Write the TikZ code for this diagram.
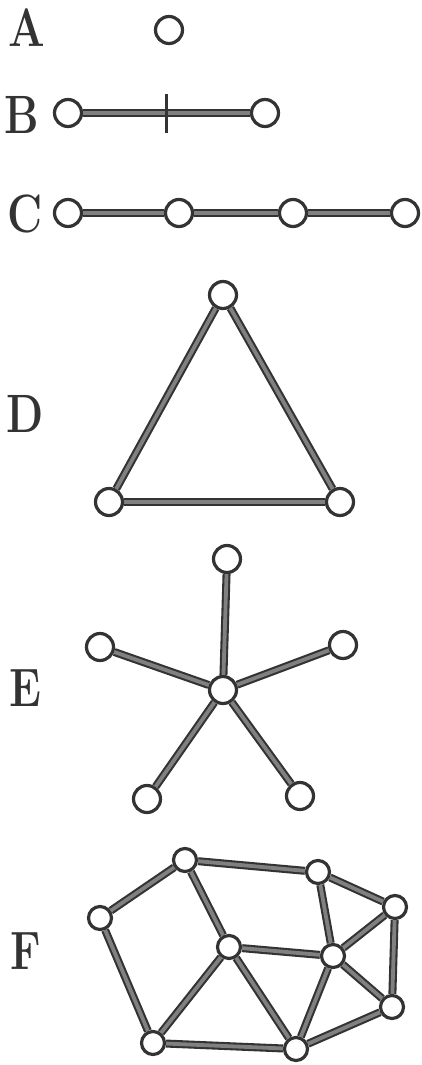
\documentclass[tikz,border=0pt]{standalone}
\usepackage{fontspec}
\newfontfamily\labfont[FakeStretch=0.8]{Latin Modern Roman}
\usetikzlibrary{calc}
\tikzset{
  vtx/.style={circle,draw=black!80,line width=3.2pt,fill=white,minimum size=27pt,inner sep=0pt},
  svtx/.style={vtx,minimum size=23pt},
  edge/.style={draw=black!80,line width=2.1pt,double=black!50,double distance=3.8pt},
  lab/.style={font=\labfont\bfseries\fontsize{54}{54}\selectfont,text=black!80,inner sep=0pt}
}
\begin{document}
\begin{tikzpicture}[x=1pt,y=-1pt]
\useasboundingbox (0,0) rectangle (422,1065);
% labels
\node[lab] (lA) at (27,28) {A};
\node[lab] (lB) at (22,115) {B};
\node[lab] (lC) at (25,214) {C};
\node[lab] (lD) at (25,414) {D};
\node[lab] (lE) at (25,688) {E};
\node[lab] (lF) at (26,951) {F};
% A
\node[vtx] (a1) at (169,30) {};
% B
\node[vtx] (b1) at (68,113) {};
\node[vtx] (b2) at (265,113) {};
\draw[edge] (b1) -- (b2);
\coordinate (bm) at ($(b1)!0.5!(b2)$);
\draw[black!80,line width=2.2pt] (bm) ++(0,-19) -- ++(0,39);
% C
\node[vtx] (c1) at (68,213) {};
\node[vtx] (c2) at (179,213) {};
\node[vtx] (c3) at (293,213) {};
\node[vtx] (c4) at (405,213) {};
\draw[edge] (c1) -- (c2);
\draw[edge] (c2) -- (c3);
\draw[edge] (c3) -- (c4);
% D
\node[vtx] (d1) at (223,295) {};
\node[vtx] (d2) at (109,502) {};
\node[vtx] (d3) at (340,502) {};
\draw[edge] (d1) -- (d2);
\draw[edge] (d2) -- (d3);
\draw[edge] (d3) -- (d1);
% E
\node[vtx] (e0) at (223,690) {};
\node[vtx] (e1) at (227,559) {};
\node[vtx] (e2) at (100,647) {};
\node[vtx] (e3) at (343,645) {};
\node[vtx] (e4) at (147,799) {};
\node[vtx] (e5) at (300,796) {};
\foreach \i in {1,...,5} {\draw[edge] (e0) -- (e\i);}
% F
\node[svtx] (f1) at (185,860) {};
\node[svtx] (f2) at (318,872) {};
\node[svtx] (f3) at (395,907) {};
\node[svtx] (f4) at (100,918) {};
\node[svtx] (f5) at (229,947) {};
\node[svtx] (f6) at (333,956) {};
\node[svtx] (f7) at (392,1007) {};
\node[svtx] (f8) at (153,1043) {};
\node[svtx] (f9) at (296,1049) {};
\foreach \u/\v in {f4/f1,f1/f2,f1/f5,f2/f3,f2/f6,f3/f6,f3/f7,f4/f8,f8/f5,f8/f9,f5/f6,f5/f9,f6/f9,f6/f7,f9/f7}
  {\draw[edge] (\u) -- (\v);}
\end{tikzpicture}
\end{document}
